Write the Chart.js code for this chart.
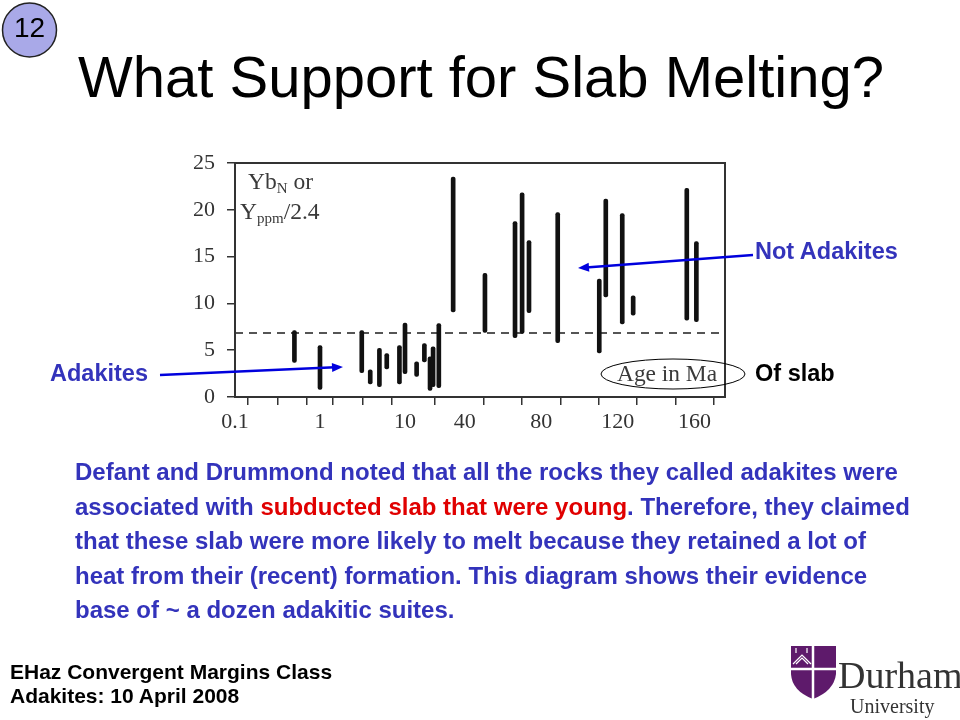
<!DOCTYPE html>
<html>
<head>
<meta charset="utf-8">
<script src="https://cdn.jsdelivr.net/npm/chart.js@4.4.1/dist/chart.umd.min.js"></script>
<style>
  body { margin: 0; background: #fff; }
  #wrap { position: relative; width: 960px; height: 720px; overflow: hidden; font-family: "Liberation Sans", Arial, sans-serif; }
  canvas { position: absolute; left: 0; top: 0; }
  .t { position: absolute; white-space: nowrap; line-height: 1; }
  .serif { font-family: "Liberation Serif", "Times New Roman", serif; color: #3a3a3a; }
  .lo { font-size: 15px; position: relative; top: 4px; }
</style>
</head>
<body>
<div id="wrap">
  <canvas id="chart" width="960" height="720"></canvas>

  <div class="t" style="left:0;width:59px;text-align:center;top:14px;font-size:28px;">12</div>
  <div class="t" style="left:78px;top:48px;font-size:58px;">What Support for Slab Melting?</div>

  <div class="t serif" style="left:248px;top:170px;font-size:23.5px;">Yb<span class="lo">N</span> or</div>
  <div class="t serif" style="left:240px;top:200px;font-size:23.5px;">Y<span class="lo">ppm</span>/2.4</div>
  <div class="t serif" style="left:617px;top:362px;font-size:23.4px;">Age in Ma</div>

  <div class="t" style="left:755px;top:240px;font-size:23.5px;font-weight:bold;color:#3333bb;">Not Adakites</div>
  <div class="t" style="left:50px;top:362px;font-size:23.5px;font-weight:bold;color:#3333bb;">Adakites</div>
  <div class="t" style="left:755px;top:362px;font-size:23.5px;font-weight:bold;color:#000;">Of slab</div>

  <div class="t" style="left:75px;top:455px;font-size:24px;line-height:34.6px;font-weight:bold;color:#3333bb;">Defant and Drummond noted that all the rocks they called adakites were<br>associated with <span style="color:#e00000">subducted slab that were young</span>. Therefore, they claimed<br>that these slab were more likely to melt because they retained a lot of<br>heat from their (recent) formation. This diagram shows their evidence<br>base of ~ a dozen adakitic suites.</div>

  <div class="t" style="left:10px;top:660px;font-size:21px;line-height:24px;font-weight:bold;color:#000;">EHaz Convergent Margins Class<br>Adakites: 10 April 2008</div>

  <div class="t serif" style="left:838px;top:656px;font-size:38px;color:#333;">Durham</div>
  <div class="t serif" style="left:850px;top:696px;font-size:20px;color:#333;">University</div>
</div>

<script>
// suites: slab age (Ma) and YbN range
const ages  = [0.5, 1, 3.1, 3.9, 5, 6.1, 8.6, 10, 13.7, 16.9, 19.7, 21.4, 25, 34, 50.6, 66.3, 70, 73.6, 88.6, 110.3, 113.7, 122.3, 128, 156, 161];
const ybLow  = [3.7, 0.8, 2.6, 1.4, 1.1, 3.0, 1.4, 2.5, 2.2, 3.75, 0.7, 1.1, 1.0, 9.1, 6.9, 6.35, 6.8, 9.0, 5.8, 4.7, 10.7, 7.8, 8.75, 8.2, 8.05];
const ybHigh = [7.1, 5.5, 7.1, 2.9, 5.2, 4.65, 5.5, 7.9, 3.75, 5.7, 4.3, 5.35, 7.85, 23.5, 13.2, 18.75, 21.8, 16.7, 19.7, 12.6, 21.15, 19.6, 10.8, 22.3, 16.6];
const cutoff = 6.85;

const yTicks = [0, 5, 10, 15, 20, 25];
const xTickAges = [0.1, 0.2, 0.5, 1, 2, 5, 10, 40, 60, 80, 100, 120, 140, 160];
const xLabelAges = [0.1, 1, 10, 40, 80, 120, 160];

// axis is log up to 30 Ma, linear after that
function agePos(a) {
  if (a <= 30) return 85 * Math.log10(a / 0.1);
  return 210.5 + 1.915 * (a - 30);
}
const xMax = 490;

function arrow(ctx, x1, y1, x2, y2) {
  const ang = Math.atan2(y2 - y1, x2 - x1);
  ctx.beginPath();
  ctx.moveTo(x1, y1);
  ctx.lineTo(x2 - 8 * Math.cos(ang), y2 - 8 * Math.sin(ang));
  ctx.stroke();
  ctx.beginPath();
  ctx.moveTo(x2, y2);
  ctx.lineTo(x2 - 11 * Math.cos(ang) + 4.5 * Math.sin(ang), y2 - 11 * Math.sin(ang) - 4.5 * Math.cos(ang));
  ctx.lineTo(x2 - 11 * Math.cos(ang) - 4.5 * Math.sin(ang), y2 - 11 * Math.sin(ang) + 4.5 * Math.cos(ang));
  ctx.closePath();
  ctx.fill();
}

const extras = {
  id: "extras",
  afterDraw(chart) {
    const ctx = chart.ctx;
    const a = chart.chartArea;
    ctx.save();
    // frame
    ctx.strokeStyle = "#333";
    ctx.lineWidth = 2;
    ctx.strokeRect(a.left, a.top, a.right - a.left, a.bottom - a.top);

    // ellipse round "Age in Ma"
    ctx.lineWidth = 1;
    ctx.strokeStyle = "#000";
    ctx.beginPath();
    ctx.ellipse(673, 374, 72, 15, 0, 0, Math.PI * 2);
    ctx.stroke();

    // arrows
    ctx.strokeStyle = "#0000dd";
    ctx.fillStyle = "#0000dd";
    ctx.lineWidth = 2.5;
    arrow(ctx, 753, 255, 578, 268);
    arrow(ctx, 160, 375, 343, 367);

    // slide number badge
    ctx.fillStyle = "#a9a9e8";
    ctx.strokeStyle = "#222";
    ctx.lineWidth = 1.5;
    ctx.beginPath();
    ctx.arc(29.5, 30, 27, 0, Math.PI * 2);
    ctx.fill();
    ctx.stroke();

    // Durham shield
    ctx.fillStyle = "#5e1a6b";
    ctx.beginPath();
    ctx.moveTo(791, 646);
    ctx.lineTo(836, 646);
    ctx.lineTo(836, 674);
    ctx.quadraticCurveTo(834, 691, 813, 699);
    ctx.quadraticCurveTo(792, 691, 791, 674);
    ctx.closePath();
    ctx.fill();
    ctx.strokeStyle = "#fff";
    ctx.lineWidth = 2.5;
    ctx.beginPath();
    ctx.moveTo(813, 646); ctx.lineTo(813, 699);
    ctx.moveTo(791, 669); ctx.lineTo(836, 669);
    ctx.stroke();
    ctx.lineWidth = 1.2;
    ctx.beginPath();
    ctx.moveTo(793, 664); ctx.lineTo(802, 655); ctx.lineTo(811, 664);
    ctx.moveTo(796, 664); ctx.lineTo(802, 658); ctx.lineTo(808, 664);
    ctx.moveTo(796, 648); ctx.lineTo(796, 653);
    ctx.moveTo(807, 648); ctx.lineTo(807, 653);
    ctx.stroke();
    ctx.restore();
  }
};

new Chart(document.getElementById("chart"), {
  type: "bar",
  data: {
    datasets: [
      {
        type: "line",
        data: [{ x: 0, y: cutoff }, { x: xMax, y: cutoff }],
        borderColor: "#555",
        borderWidth: 2,
        borderDash: [8, 6],
        pointRadius: 0,
        order: 2
      },
      {
        type: "bar",
        data: ages.map((a, i) => ({ x: agePos(a), y: [ybLow[i], ybHigh[i]] })),
        backgroundColor: "#111",
        barThickness: 4,
        borderSkipped: false,
        borderRadius: 2,
        order: 1
      }
    ]
  },
  options: {
    responsive: false,
    animation: false,
    layout: { padding: { left: 180, right: 235, top: 163, bottom: 283 } },
    plugins: { legend: { display: false }, tooltip: { enabled: false } },
    scales: {
      x: {
        type: "linear",
        min: 0,
        max: xMax,
        offset: false,
        afterFit: s => { s.height = 40; },
        afterBuildTicks: s => { s.ticks = xTickAges.map(a => ({ value: agePos(a) })); },
        grid: { drawOnChartArea: false, tickLength: 8, color: "#333", lineWidth: 1.5 },
        border: { color: "#333", width: 2 },
        ticks: {
          autoSkip: false,
          maxRotation: 0,
          padding: 4,
          color: "#333",
          font: { family: "Liberation Serif", size: 22 },
          callback: (v, i) => xLabelAges.includes(xTickAges[i]) ? String(xTickAges[i]) : ""
        }
      },
      y: {
        min: 0,
        max: 25,
        afterFit: s => { s.width = 55; },
        afterBuildTicks: s => { s.ticks = yTicks.map(v => ({ value: v })); },
        grid: { drawOnChartArea: false, tickLength: 8, color: "#333", lineWidth: 1.5 },
        border: { color: "#333", width: 2 },
        ticks: {
          padding: 12,
          color: "#333",
          font: { family: "Liberation Serif", size: 22 }
        }
      }
    }
  },
  plugins: [extras]
});
</script>
</body>
</html>
